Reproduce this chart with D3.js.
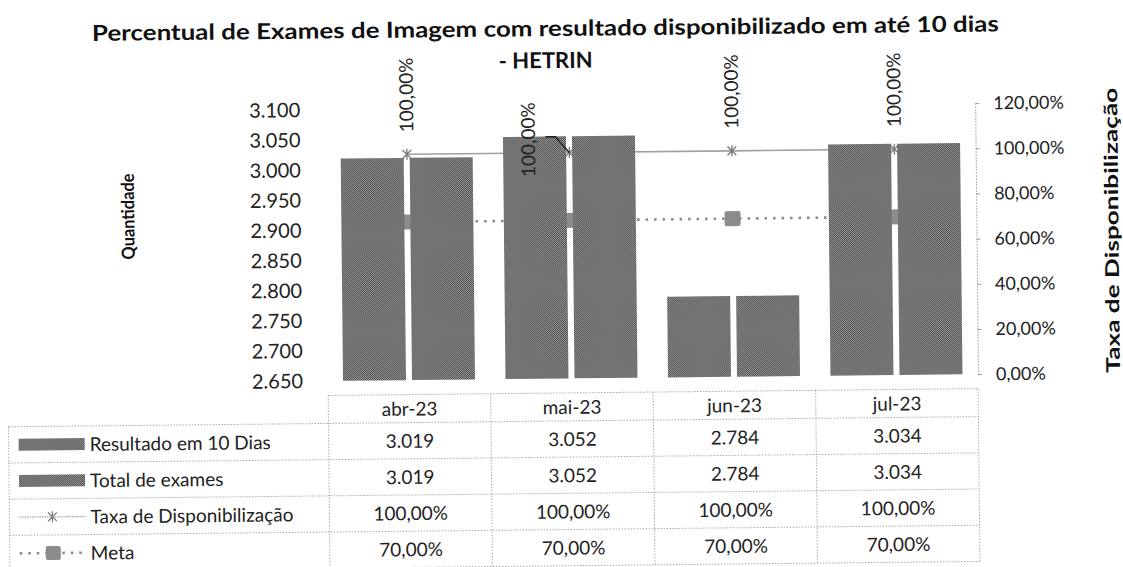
<!DOCTYPE html>
<html>
<head>
<meta charset="utf-8">
<script src="https://cdn.jsdelivr.net/npm/d3@7"></script>
<style>
  body { margin: 0; background: #fff; }
  svg { display: block; font-family: Lato, "Open Sans", sans-serif; }
</style>
</head>
<body>
<svg id="chart" width="1123" height="567"></svg>
<script>
// chart data
const titleLines = ['Percentual de Exames de Imagem com resultado disponibilizado em até 10 dias', '- HETRIN'];
const months = ['abr-23', 'mai-23', 'jun-23', 'jul-23'];
const seriesNames = ['Resultado em 10 Dias', 'Total de exames', 'Taxa de Disponibilização', 'Meta'];
const resultado10 = [3019, 3052, 2784, 3034];
const totalExames = [3019, 3052, 2784, 3034];
const taxa = [1, 1, 1, 1];
const meta = [0.7, 0.7, 0.7, 0.7];
const leftTicks = [2650, 2700, 2750, 2800, 2850, 2900, 2950, 3000, 3050, 3100];
const rightTicks = [0, 0.2, 0.4, 0.6, 0.8, 1, 1.2];
const leftTitle = 'Quantidade';
const rightTitle = 'Taxa de Disponibilização';

const ptBR = d3.formatLocale({ decimal: ',', thousands: '.', grouping: [3], currency: ['R$', ''] });
const fmtInt = ptBR.format(',d');
const fmtPct = ptBR.format('.2%');

const plot = { left: 327, right: 977, top: 107.5, bottom: 378.5 };
const table = { left: 7, header: 393, firstRow: 421, rowH: 36.2 };

const svg = d3.select('#chart');

// dithered grey like the printed bars
const pat = svg.append('defs').append('pattern')
  .attr('id', 'dither')
  .attr('width', 2).attr('height', 2)
  .attr('patternUnits', 'userSpaceOnUse');
pat.append('rect').attr('width', 2).attr('height', 2).attr('fill', '#9e9e9e');
pat.append('rect').attr('width', 1).attr('height', 1).attr('fill', '#484848');
pat.append('rect').attr('x', 1).attr('y', 1).attr('width', 1).attr('height', 1).attr('fill', '#484848');

// the scan is slightly tilted
const root = svg.append('g').attr('transform', 'rotate(-0.6,561,283)');

const x = d3.scaleBand().domain(months).range([plot.left, plot.right]);
const x1 = d3.scaleBand().domain([0, 1]).range([15, 147]).paddingInner(0.087);
const yL = d3.scaleLinear().domain([2650, 3100]).range([plot.bottom, plot.top]);
const yR = d3.scaleLinear().domain([0, 1.2]).range([plot.bottom, plot.top]);
const cx = m => x(m) + x.bandwidth() / 2;

// title
root.selectAll('text.title')
  .data(titleLines)
  .enter()
  .append('text')
  .attr('class', 'title')
  .attr('x', 548)
  .attr('y', (d, i) => i === 0 ? 36 : 68)
  .attr('text-anchor', 'middle')
  .attr('font-weight', 'bold')
  .attr('font-size', 22)
  .attr('fill', '#111')
  .each(function (d, i) {
    if (i === 0) d3.select(this).attr('textLength', 907).attr('lengthAdjust', 'spacingAndGlyphs');
  })
  .text(d => d);

// left axis
const axL = root.append('g')
  .attr('transform', 'translate(302,0)')
  .call(d3.axisLeft(yL).tickValues(leftTicks).tickFormat(fmtInt).tickSize(0).tickPadding(0));
axL.select('.domain').remove();
axL.selectAll('text').attr('font-size', 20).attr('fill', '#222').attr('font-family', 'Lato, sans-serif');

// right axis
const axR = root.append('g')
  .attr('transform', 'translate(' + plot.right + ',0)')
  .call(d3.axisRight(yR).tickValues(rightTicks).tickFormat(fmtPct).tickSize(4).tickSizeOuter(0).tickPadding(14));
axR.select('.domain').attr('stroke', '#999').attr('stroke-dasharray', '1.5,1.5');
axR.selectAll('line').attr('stroke', '#999');
axR.selectAll('text').attr('font-size', 18).attr('fill', '#222').attr('font-family', 'Lato, sans-serif');

// axis titles
root.append('text')
  .attr('transform', 'translate(135,212) rotate(-90)')
  .attr('text-anchor', 'middle')
  .attr('font-weight', 'bold')
  .attr('font-size', 18)
  .attr('textLength', 86)
  .attr('lengthAdjust', 'spacingAndGlyphs')
  .attr('fill', '#111')
  .text(leftTitle);

root.append('text')
  .attr('transform', 'translate(1119,236) rotate(-90)')
  .attr('text-anchor', 'middle')
  .attr('font-weight', 'bold')
  .attr('font-size', 19)
  .attr('textLength', 285)
  .attr('lengthAdjust', 'spacingAndGlyphs')
  .attr('fill', '#111')
  .text(rightTitle);

// marker paths
const starPath = s => 'M0,' + (-s) + 'V' + s + 'M' + (-s * 0.8) + ',' + (-s * 0.8) + 'L' + (s * 0.8) + ',' + (s * 0.8) +
  'M' + (-s * 0.8) + ',' + (s * 0.8) + 'L' + (s * 0.8) + ',' + (-s * 0.8);

// lines sit behind the bars
const line = d3.line().x((d, i) => cx(months[i])).y(d => yR(d));

root.append('path')
  .datum(meta)
  .attr('d', line)
  .attr('fill', 'none')
  .attr('stroke', '#8a8a8a')
  .attr('stroke-width', 2.6)
  .attr('stroke-dasharray', '2.5,6');

root.selectAll('rect.metaMark')
  .data(meta)
  .enter()
  .append('rect')
  .attr('class', 'metaMark')
  .attr('x', (d, i) => cx(months[i]) - 8)
  .attr('y', d => yR(d) - 7.5)
  .attr('width', 16)
  .attr('height', 15)
  .attr('rx', 2)
  .attr('fill', '#8c8c8c');

root.append('path')
  .datum(taxa)
  .attr('d', line)
  .attr('fill', 'none')
  .attr('stroke', '#a0a0a0')
  .attr('stroke-width', 1.6);

root.selectAll('path.taxaMark')
  .data(taxa)
  .enter()
  .append('path')
  .attr('class', 'taxaMark')
  .attr('transform', (d, i) => 'translate(' + cx(months[i]) + ',' + yR(d) + ')')
  .attr('d', starPath(5.5))
  .attr('stroke', '#777')
  .attr('stroke-width', 1.3)
  .attr('fill', 'none');

// bars
const barSeries = [resultado10, totalExames];
const groups = root.selectAll('g.month')
  .data(months)
  .enter()
  .append('g')
  .attr('class', 'month')
  .attr('transform', d => 'translate(' + x(d) + ',0)');

groups.selectAll('rect')
  .data((m, i) => barSeries.map((s, k) => ({ k: k, v: s[i] })))
  .enter()
  .append('rect')
  .attr('x', d => x1(d.k))
  .attr('y', d => yL(d.v))
  .attr('width', x1.bandwidth())
  .attr('height', d => yL(2650) - yL(d.v))
  .attr('fill', 'url(#dither)');

// data labels (the mai-23 one was pushed aside, with a leader line)
const moved = 1;
root.selectAll('text.lbl')
  .data(taxa)
  .enter()
  .append('text')
  .attr('class', 'lbl')
  .attr('transform', (d, i) => {
    const px = cx(months[i]) + (i === moved ? -41 : 0);
    const py = yR(d) + (i === moved ? 24 : -22);
    return 'translate(' + px + ',' + py + ') rotate(-90)';
  })
  .attr('dy', '0.35em')
  .attr('font-size', 19)
  .attr('fill', '#222')
  .text(d => fmtPct(d));

const mx = cx(months[moved]);
const my = yR(taxa[moved]);
root.append('path')
  .attr('d', 'M' + (mx - 24) + ',' + (my - 16) + 'H' + (mx - 14) + 'L' + mx + ',' + my)
  .attr('fill', 'none')
  .attr('stroke', '#111')
  .attr('stroke-width', 1.2);

// data table
const tbl = root.append('g')
  .attr('stroke', '#aaa')
  .attr('stroke-width', 1)
  .attr('stroke-dasharray', '1.5,1.5')
  .attr('fill', 'none');
const rowY = d3.range(seriesNames.length + 1).map(i => table.firstRow + i * table.rowH);
const bottom = rowY[rowY.length - 1];

tbl.append('line')
  .attr('x1', plot.left).attr('x2', plot.right)
  .attr('y1', table.header).attr('y2', table.header);
tbl.selectAll('line.row')
  .data(rowY)
  .enter()
  .append('line')
  .attr('class', 'row')
  .attr('x1', table.left).attr('x2', plot.right)
  .attr('y1', d => d).attr('y2', d => d);
tbl.selectAll('line.col')
  .data(months.map(m => x(m)).concat([plot.right]))
  .enter()
  .append('line')
  .attr('class', 'col')
  .attr('x1', d => d).attr('x2', d => d)
  .attr('y1', table.header).attr('y2', bottom);
tbl.append('line')
  .attr('x1', table.left).attr('x2', table.left)
  .attr('y1', table.firstRow).attr('y2', bottom);

root.selectAll('text.head')
  .data(months)
  .enter()
  .append('text')
  .attr('class', 'head')
  .attr('x', d => cx(d))
  .attr('y', (table.header + table.firstRow) / 2 + 7)
  .attr('text-anchor', 'middle')
  .attr('font-size', 19)
  .attr('fill', '#222')
  .text(d => d);

const rows = [
  resultado10.map(fmtInt),
  totalExames.map(fmtInt),
  taxa.map(fmtPct),
  meta.map(fmtPct)
];

rows.forEach((vals, r) => {
  const yc = rowY[r] + table.rowH / 2;
  root.selectAll('text.cell' + r)
    .data(vals)
    .enter()
    .append('text')
    .attr('class', 'cell' + r)
    .attr('x', (d, i) => cx(months[i]))
    .attr('y', yc + 7)
    .attr('text-anchor', 'middle')
    .attr('font-size', 19)
    .attr('fill', '#222')
    .text(d => d);

  root.append('text')
    .attr('x', 88)
    .attr('y', yc + 7)
    .attr('font-size', 19)
    .attr('fill', '#222')
    .text(seriesNames[r]);

  // legend keys
  if (r < 2) {
    root.append('rect')
      .attr('x', 17).attr('y', yc - 6)
      .attr('width', 66).attr('height', 12)
      .attr('fill', 'url(#dither)');
  } else if (r === 2) {
    root.append('line')
      .attr('x1', 17).attr('x2', 83).attr('y1', yc).attr('y2', yc)
      .attr('stroke', '#a0a0a0').attr('stroke-width', 1.2).attr('stroke-dasharray', '1.5,1');
    root.append('path')
      .attr('transform', 'translate(50,' + yc + ')')
      .attr('d', starPath(5.5))
      .attr('stroke', '#777').attr('stroke-width', 1.2).attr('fill', 'none');
  } else {
    root.append('line')
      .attr('x1', 17).attr('x2', 83).attr('y1', yc).attr('y2', yc)
      .attr('stroke', '#8a8a8a').attr('stroke-width', 2.6).attr('stroke-dasharray', '2.5,6');
    root.append('rect')
      .attr('x', 43).attr('y', yc - 7)
      .attr('width', 15).attr('height', 14).attr('rx', 2)
      .attr('fill', '#8c8c8c');
  }
});
</script>
</body>
</html>
